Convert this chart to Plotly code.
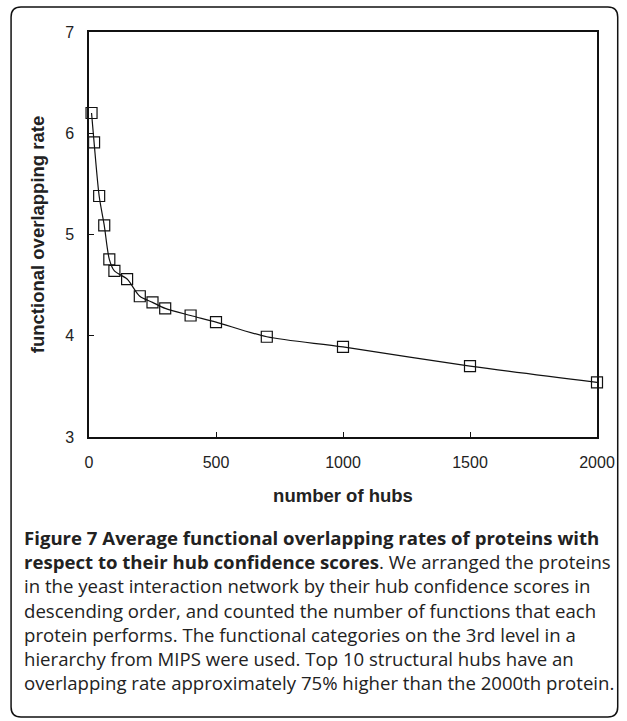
import plotly.graph_objects as go

hubs = [10, 20, 40, 60, 80, 100, 150, 200, 250, 300, 400, 500, 700, 1000, 1500, 2000]
rate = [6.20, 5.91, 5.38, 5.09, 4.755, 4.64, 4.56, 4.39, 4.33, 4.27, 4.20, 4.135, 3.99, 3.89, 3.70, 3.54]
x_ticks = [0, 500, 1000, 1500, 2000]
y_ticks = [3, 4, 5, 6, 7]

caption_lines = [
    "<b>Figure 7 Average functional overlapping rates of proteins with</b>",
    "<b>respect to their hub confidence scores</b>. We arranged the proteins",
    "in the yeast interaction network by their hub confidence scores in",
    "descending order, and counted the number of functions that each",
    "protein performs. The functional categories on the 3rd level in a",
    "hierarchy from MIPS were used. Top 10 structural hubs have an",
    "overlapping rate approximately 75% higher than the 2000th protein.",
]

W, H = 627, 721
L, R, T, B = 89, 23, 32, 284
pw, ph = W - L - R, H - T - B

def px(x):
    return (x - L) / pw

def py(y):
    return (H - B - y) / ph

fig = go.Figure()
fig.add_trace(go.Scatter(
    x=hubs, y=rate, mode="lines+markers",
    line=dict(color="#111", width=1.2, shape="spline", smoothing=0.8),
    marker=dict(symbol="square-open", size=11, color="#111", line=dict(width=1.2)),
    showlegend=False, cliponaxis=False,
))

axis_common = dict(
    showgrid=False, zeroline=False, showline=True, linecolor="#111", linewidth=1.5,
    mirror=True, ticks="inside", ticklen=5, tickcolor="#111", tickwidth=1,
    tickfont=dict(family="Liberation Sans, Arial", size=16, color="#222"),
)
fig.update_xaxes(range=[0, 2000], tickvals=x_ticks, ticklabelstandoff=10,
                 title=dict(text="<b>number of hubs</b>", standoff=19,
                            font=dict(family="Liberation Sans, Arial", size=18.5, color="#222")),
                 **axis_common)
fig.update_yaxes(range=[3, 7], tickvals=y_ticks, ticklabelstandoff=10,
                 title=dict(text="<b>functional overlapping rate</b>", standoff=16,
                            font=dict(family="Liberation Sans, Arial", size=18.5, color="#222")),
                 **axis_common)

# rounded border box
x0, x1, y0, y1, r = 10, 625, 7, 717, 10
path = (f"M {px(x0+r)} {py(y0)} L {px(x1-r)} {py(y0)} "
        f"Q {px(x1)} {py(y0)} {px(x1)} {py(y0+r)} "
        f"L {px(x1)} {py(y1-r)} Q {px(x1)} {py(y1)} {px(x1-r)} {py(y1)} "
        f"L {px(x0+r)} {py(y1)} Q {px(x0)} {py(y1)} {px(x0)} {py(y1-r)} "
        f"L {px(x0)} {py(y0+r)} Q {px(x0)} {py(y0)} {px(x0+r)} {py(y0)} Z")
fig.add_shape(type="path", path=path, xref="paper", yref="paper",
              line=dict(color="#111", width=1.5), layer="below")

fig.add_annotation(
    text="<br>".join(caption_lines), xref="paper", yref="paper",
    x=px(21), y=py(610), xanchor="left", yanchor="middle",
    showarrow=False, align="left",
    font=dict(family="Open Sans", size=18.6, color="#222"),
)

fig.update_layout(
    width=W, height=H, margin=dict(l=L, r=R, t=T, b=B),
    paper_bgcolor="white", plot_bgcolor="white",
)
fig.write_html("out.html", post_script="document.body.style.margin='0';",
               config={"displayModeBar": False})
